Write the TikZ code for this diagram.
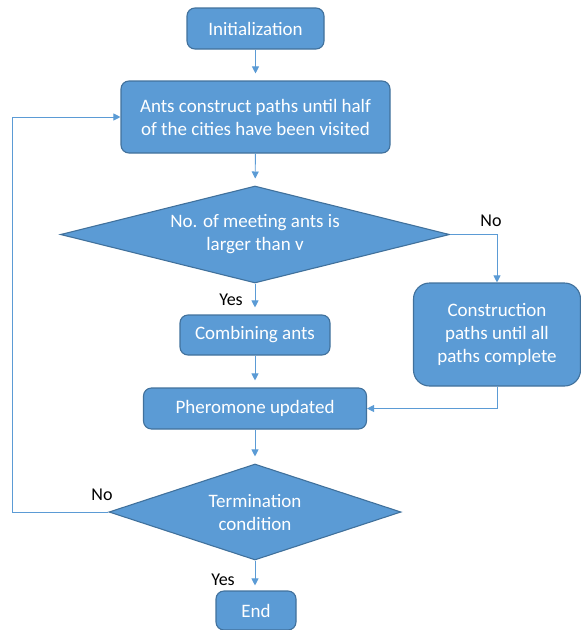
\documentclass[tikz,border=0pt]{standalone}
\usepackage{fontspec}
\setmainfont{Carlito}
\usepackage{xcolor}
\usepackage{tikz}
\usetikzlibrary{arrows.meta,positioning,shapes.geometric}
\definecolor{boxblue}{HTML}{5B9BD5}
\definecolor{edgeblue}{HTML}{41719C}
\tikzset{
  ar/.style={-{Triangle[length=7pt,width=7pt]},line width=0.9pt,boxblue},
  gap/.style={shorten >=7pt},
  box/.style={draw=edgeblue,line width=1.1pt,rounded corners=8pt,fill=boxblue,text=white,align=center,inner sep=2pt,font=\fontsize{19}{23}\selectfont},
  dec/.style={diamond,draw=edgeblue,line width=1.1pt,fill=boxblue,text=white,align=center,inner sep=0pt,font=\fontsize{19}{23}\selectfont},
  lbl/.style={font=\fontsize{18}{21}\selectfont,text=black}
}

\begin{document}
\begin{tikzpicture}[x=1pt,y=-1pt]
\useasboundingbox (0,0) rectangle (581,630);
\node[box,minimum width=137pt,minimum height=41pt] (init) at (255.5,28.5) {Initialization};
\node[box,minimum width=269pt,minimum height=72pt] (ants) at (255.5,117) {Ants construct paths until half\\of the cities have been visited};
\node[dec,aspect=4,minimum width=389pt,minimum height=97pt] (meet) at (255,234.5) {No. of meeting ants is\\larger than v};
\node[box,rounded corners=16pt,minimum width=167pt,minimum height=103pt] (cons) at (497,334.5) {Construction\\paths until all\\paths complete};
\node[box,minimum width=150pt,minimum height=40pt] (comb) at (255,335) {Combining ants};
\node[box,minimum width=223pt,minimum height=41pt] (pher) at (255,408.5) {Pheromone updated};
\node[dec,aspect=3,minimum width=292pt,minimum height=96pt] (term) at (255,512) {Termination\\condition};
\node[box,minimum width=80pt,minimum height=39pt] (fin) at (256,610.5) {End};
\coordinate (lp) at (12,512);

% labels
\node[lbl] (no1) at (491,221) {No};
\node[lbl] (yes1) at (231,300) {Yes};
\node[lbl] (no2) at (102,495) {No};
\node[lbl] (yes2) at (223,580) {Yes};

\draw[ar,gap] (init) -- (ants);
\draw[ar,gap] (ants) -- (meet);
\draw[ar,gap] (meet) -- (comb);
\draw[ar] (meet.east) -| (cons.north);
\draw[ar,gap] (comb) -- (pher);
\draw[ar] (cons.south) |- (pher.east);
\draw[ar,gap] (pher) -- (term);
\draw[ar,shorten >=5pt] (term.south) -- (term.south |- fin.north);
\draw[ar] (term.west) -- (lp) |- (ants.west);
\end{tikzpicture}
\end{document}
